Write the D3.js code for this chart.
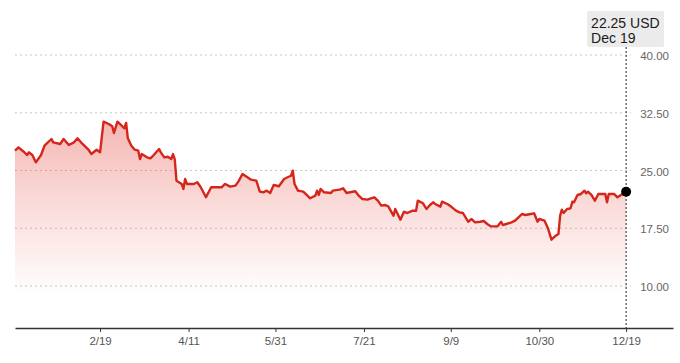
<!DOCTYPE html>
<html>
<head>
<meta charset="utf-8">
<script src="https://cdn.jsdelivr.net/npm/d3@7"></script>
<style>
  html, body { margin: 0; padding: 0; background: #fff; }
  svg { display: block; font-family: "Liberation Sans", Arial, sans-serif; }
</style>
</head>
<body>
<div id="container"></div>
<script>
'use strict'
// data
const dates = ["2023-01-01","2023-01-03","2023-01-06","2023-01-08","2023-01-09","2023-01-11","2023-01-13","2023-01-16","2023-01-18","2023-01-22",
  "2023-01-23","2023-01-27","2023-01-29","2023-02-01","2023-02-04","2023-02-06","2023-02-08","2023-02-12","2023-02-14","2023-02-17",
  "2023-02-19","2023-02-21","2023-02-24","2023-02-26","2023-02-27","2023-03-01","2023-03-03","2023-03-05","2023-03-06","2023-03-07",
  "2023-03-09","2023-03-11","2023-03-13","2023-03-14","2023-03-15","2023-03-18","2023-03-20","2023-03-21","2023-03-25","2023-03-26",
  "2023-03-28","2023-03-30","2023-04-01","2023-04-02","2023-04-03","2023-04-04","2023-04-07","2023-04-08","2023-04-09","2023-04-10",
  "2023-04-14","2023-04-16","2023-04-18","2023-04-21","2023-04-24","2023-04-30","2023-05-02","2023-05-05","2023-05-08","2023-05-10",
  "2023-05-12","2023-05-14","2023-05-17","2023-05-20","2023-05-22","2023-05-24","2023-05-26","2023-05-28","2023-05-30","2023-06-02",
  "2023-06-05","2023-06-07","2023-06-09","2023-06-10","2023-06-11","2023-06-13","2023-06-16","2023-06-18","2023-06-20","2023-06-23",
  "2023-06-24","2023-06-25","2023-06-26","2023-06-28","2023-07-02","2023-07-03","2023-07-07","2023-07-09","2023-07-11","2023-07-13",
  "2023-07-16","2023-07-18","2023-07-20","2023-07-23","2023-07-25","2023-07-27","2023-07-29","2023-07-31","2023-08-02","2023-08-04",
  "2023-08-07","2023-08-08","2023-08-11","2023-08-13","2023-08-15","2023-08-18","2023-08-20","2023-08-21","2023-08-24","2023-08-26",
  "2023-08-28","2023-08-30","2023-08-31","2023-09-03","2023-09-04","2023-09-07","2023-09-09","2023-09-12","2023-09-14","2023-09-16",
  "2023-09-19","2023-09-21","2023-09-23","2023-09-26","2023-09-28","2023-09-30","2023-10-02","2023-10-06","2023-10-08","2023-10-09",
  "2023-10-11","2023-10-14","2023-10-16","2023-10-18","2023-10-20","2023-10-22","2023-10-25","2023-10-27","2023-10-29","2023-10-30",
  "2023-11-02","2023-11-04","2023-11-06","2023-11-08","2023-11-10","2023-11-11","2023-11-12","2023-11-13","2023-11-15","2023-11-17",
  "2023-11-18","2023-11-19","2023-11-21","2023-11-23","2023-11-25","2023-11-26","2023-11-27","2023-11-29","2023-12-01","2023-12-03",
  "2023-12-07","2023-12-08","2023-12-09","2023-12-12","2023-12-14","2023-12-16","2023-12-19"];
const prices = [27.57,28.01,27.44,27.01,27.36,27.01,26.06,27.01,28.22,29.09,
  28.66,28.44,29.09,28.31,28.66,29.18,28.66,27.79,27.14,27.70,
  27.36,31.34,31.04,30.74,29.87,31.34,30.91,30.48,31.17,29.18,
  28.22,27.70,27.57,26.49,27.14,26.71,26.58,26.79,27.79,27.36,
  26.71,26.79,26.49,27.14,26.49,23.68,23.25,22.60,23.90,23.25,
  23.25,23.47,22.82,21.52,22.82,22.82,23.25,22.90,23.03,23.68,
  24.55,24.25,23.81,23.68,22.25,22.17,22.38,22.08,23.12,22.95,
  23.90,24.12,24.32,24.97,23.25,22.38,22.25,21.82,21.39,21.73,
  22.38,21.82,22.60,22.17,22.08,22.38,22.51,22.69,22.08,22.17,
  22.30,21.73,21.30,21.21,21.39,21.52,21.08,20.43,20.52,20.35,
  19.13,20.00,18.61,19.65,19.48,19.78,19.78,21.08,20.74,20.00,
  20.52,20.87,20.65,20.30,20.95,20.65,20.35,19.78,19.57,19.48,
  18.35,18.70,18.27,18.35,18.44,18.05,17.75,17.75,18.35,17.92,
  18.05,18.27,18.48,18.92,19.35,19.22,19.35,19.44,18.35,18.70,
  18.48,17.49,16.01,16.45,16.75,19.13,19.91,19.48,20.00,20.09,
  20.95,20.87,21.82,21.95,22.38,22.04,22.25,21.82,21.08,21.95,
  21.95,20.87,21.95,21.95,21.52,21.82,22.25];
const yTicks = [10, 17.5, 25, 32.5, 40];
const xTickLabels = ["2023-02-19","2023-04-11","2023-05-31","2023-07-21","2023-09-09","2023-10-30","2023-12-19"];
const lastLabel = ["22.25 USD", "Dec 19"];

const parse = d3.timeParse("%Y-%m-%d");
const data = dates.map((d, i) => ({ date: parse(d), value: prices[i] }));

const w = 680, h = 363;
const svg = d3.select("#container").append("svg").attr("width", w).attr("height", h);

const xScale = d3.scaleTime()
  .domain([parse("2023-01-01"), parse("2024-01-15")])
  .range([15, 673]);
const yScale = d3.scaleLinear().domain([10, 40]).range([286, 55]);
const axisY = 328;

// gradient for the area
const grad = svg.append("defs").append("linearGradient")
  .attr("id", "fade").attr("gradientUnits", "userSpaceOnUse")
  .attr("x1", 0).attr("x2", 0).attr("y1", yScale(31.5)).attr("y2", yScale(8.5));
grad.append("stop").attr("offset", "0%").attr("stop-color", "#e2382c").attr("stop-opacity", 0.36);
grad.append("stop").attr("offset", "55%").attr("stop-color", "#e2382c").attr("stop-opacity", 0.15);
grad.append("stop").attr("offset", "100%").attr("stop-color", "#e2382c").attr("stop-opacity", 0);

// gridlines
svg.append("g").selectAll("line").data(yTicks).enter().append("line")
  .attr("x1", 15).attr("x2", 631)
  .attr("y1", d => yScale(d)).attr("y2", d => yScale(d))
  .attr("stroke", "#c8c8c8").attr("stroke-width", 1).attr("stroke-dasharray", "2,3");

svg.append("g").selectAll("text").data(yTicks).enter().append("text")
  .attr("x", 669).attr("y", d => yScale(d) + 5)
  .attr("text-anchor", "end")
  .style("font-size", "11.5px").attr("fill", "#666")
  .text(d => d3.format(".2f")(d));

// area + line
const area = d3.area().x(d => xScale(d.date)).y0(axisY).y1(d => yScale(d.value));
svg.append("path").datum(data).attr("d", area).attr("fill", "url(#fade)");

const line = d3.line().x(d => xScale(d.date)).y(d => yScale(d.value));
svg.append("path").datum(data).attr("d", line)
  .attr("fill", "none").attr("stroke", "#d5261c").attr("stroke-width", 2.4)
  .attr("stroke-linejoin", "round");

// x axis
const xAxis = d3.axisBottom(xScale)
  .tickValues(xTickLabels.map(parse))
  .tickFormat(d3.timeFormat("%-m/%-d"))
  .tickSize(4).tickSizeOuter(0);
const gx = svg.append("g").attr("transform", "translate(0," + axisY + ")").call(xAxis);
gx.select(".domain").attr("stroke", "#333").attr("stroke-width", 1.5);
gx.selectAll(".tick line").attr("stroke", "#333");
gx.selectAll(".tick text").attr("fill", "#555").style("font-size", "11.5px")
  .style("font-family", "'Liberation Sans', Arial, sans-serif").attr("dy", "0.9em");

// marker at last point
const last = data[data.length - 1];
const lx = xScale(last.date);
svg.append("line").attr("x1", lx).attr("x2", lx).attr("y1", 47).attr("y2", axisY)
  .attr("stroke", "#222").attr("stroke-width", 1).attr("stroke-dasharray", "2,2");
svg.append("circle").attr("cx", lx).attr("cy", yScale(last.value)).attr("r", 5).attr("fill", "#000");

// label box
svg.append("rect").attr("x", lx - 39).attr("y", 11).attr("width", 77).attr("height", 36)
  .attr("rx", 2).attr("fill", "#ebebeb");
lastLabel.forEach(function(t, i) {
  svg.append("text").text(t).attr("x", lx - 35).attr("y", 28 + i * 15)
    .style("font-size", "14px").attr("fill", "#1a1a1a");
});
</script>
</body>
</html>
